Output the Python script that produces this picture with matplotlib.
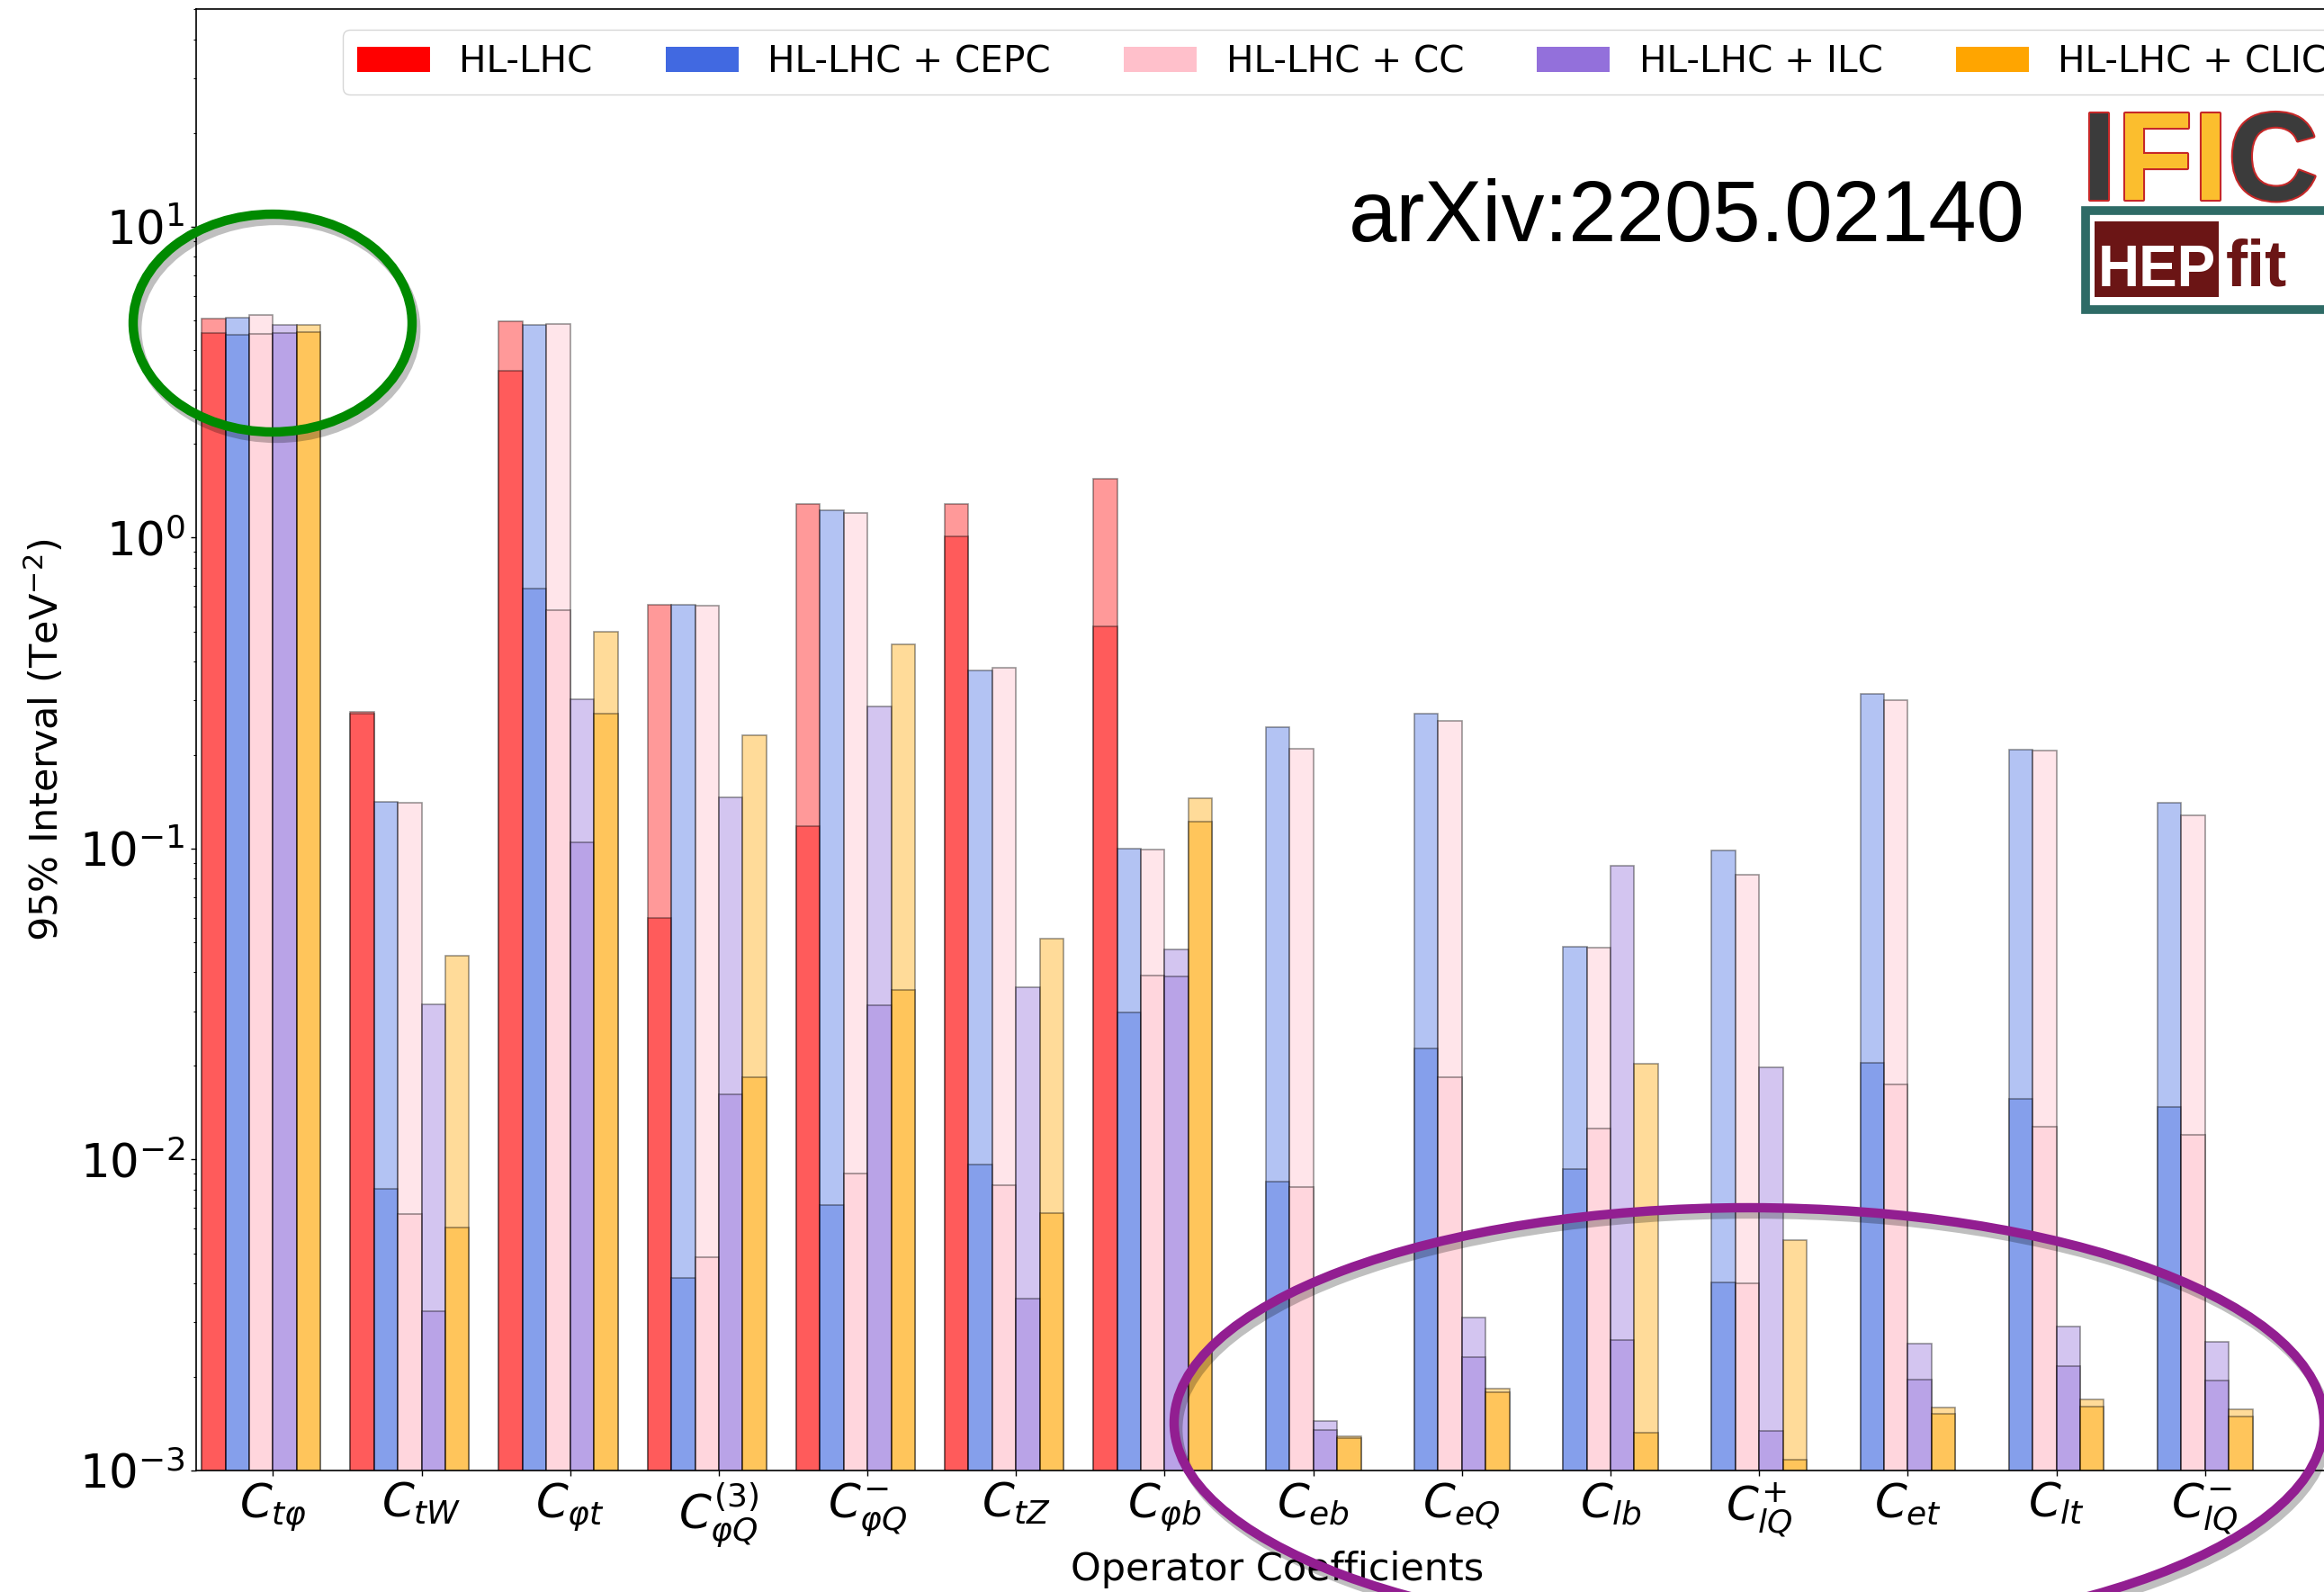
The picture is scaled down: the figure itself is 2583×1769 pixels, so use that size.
import numpy as np
import matplotlib.pyplot as plt
import matplotlib.patheffects as pe
from matplotlib.patches import Patch, Ellipse, Rectangle

nan = np.nan

coeffs = [r'$C_{t\varphi}$', r'$C_{tW}$', r'$C_{\varphi t}$', r'$C_{\varphi Q}^{(3)}$',
          r'$C_{\varphi Q}^{-}$', r'$C_{tZ}$', r'$C_{\varphi b}$', r'$C_{eb}$',
          r'$C_{eQ}$', r'$C_{lb}$', r'$C_{lQ}^{+}$', r'$C_{et}$', r'$C_{lt}$',
          r'$C_{lQ}^{-}$']
labels = ['HL-LHC', 'HL-LHC + CEPC', 'HL-LHC + CC', 'HL-LHC + ILC', 'HL-LHC + CLIC']
colors = ['red', 'royalblue', 'pink', 'mediumpurple', 'orange']

# 95% intervals [TeV^-2]: global fit (light) and individual fit (dark)
hllhc_glob = [5.07, 0.275, 4.96, 0.607, 1.288, 1.288, 1.548, nan, nan, nan, nan, nan, nan, nan]
hllhc_ind = [4.56, 0.272, 3.44, 0.0598, 0.1178, 1.012, 0.518, nan, nan, nan, nan, nan, nan, nan]
cepc_glob = [5.09, 0.141, 4.85, 0.607, 1.222, 0.373, 0.1003, 0.2466, 0.272, 0.0484, 0.0987, 0.314, 0.2075, 0.1406]
cepc_ind = [4.50, 0.00807, 0.686, 0.00415, 0.00716, 0.00964, 0.0298, 0.00849, 0.0228, 0.00931, 0.00403, 0.0205, 0.01563, 0.01476]
cc_glob = [5.21, 0.1405, 4.88, 0.604, 1.202, 0.382, 0.0994, 0.210, 0.258, 0.0481, 0.0824, 0.301, 0.2064, 0.1277]
cc_ind = [4.52, 0.00668, 0.583, 0.00484, 0.0090, 0.00826, 0.0391, 0.00816, 0.01845, 0.01256, 0.00399, 0.0175, 0.01276, 0.01205]
ilc_glob = [4.85, 0.0316, 0.303, 0.146, 0.286, 0.0359, 0.0473, 0.00144, 0.00311, 0.0879, 0.0198, 0.00256, 0.0029, 0.00259]
ilc_ind = [4.56, 0.00326, 0.105, 0.01626, 0.0313, 0.00356, 0.0387, 0.00135, 0.00231, 0.00262, 0.00134, 0.00196, 0.00216, 0.00195]
clic_glob = [4.85, 0.0452, 0.50, 0.232, 0.453, 0.0512, 0.1455, 0.00129, 0.00184, 0.0203, 0.0055, 0.00159, 0.00169, 0.00157]
clic_ind = [4.60, 0.00605, 0.272, 0.01845, 0.0351, 0.00671, 0.1225, 0.00127, 0.00179, 0.00132, 0.00108, 0.00152, 0.00160, 0.00149]

glob = [hllhc_glob, cepc_glob, cc_glob, ilc_glob, clic_glob]
ind = [hllhc_ind, cepc_ind, cc_ind, ilc_ind, clic_ind]

W, H = 2583, 1769
fig = plt.figure(figsize=(W/100, H/100), dpi=100)
ax = fig.add_axes([217.5/W, 135/H, 2405/W, 1623.5/H])

x = np.arange(len(coeffs))
w = 0.16
for k in range(5):
    g = np.array(glob[k])
    s = np.array(ind[k])
    m = ~np.isnan(g)
    pos = x[m] + (k - 2.5)*w
    ax.bar(pos, g[m], w, color=colors[k], alpha=0.4, edgecolor='k', linewidth=1.2)
    ax.bar(pos, s[m], w, color=colors[k], alpha=0.4, edgecolor='k', linewidth=1.2)

ax.set_yscale('log')
ax.set_ylim(1e-3, 50)
ax.set_xlim(-0.52, 14.04)
ax.set_xticks(x)
ax.set_xticklabels(coeffs)
ax.tick_params(which='major', labelsize=37, length=4.3, width=1, pad=4)
ax.tick_params(which='minor', length=2.2, width=0.8)
for sp in ax.spines.values():
    sp.set_linewidth(1.2)

ax.set_ylabel(r'95% Interval (TeV$^{-2}$)', fontsize=31)
ax.set_xlabel('Operator Coefficients', fontsize=31)
ax.yaxis.set_label_coords(-0.0597, 0.5)
ax.xaxis.set_label_coords(0.5, -0.0548)

handles = [Patch(facecolor=c) for c in colors]
fig.legend(handles, labels, loc='upper left', bbox_to_anchor=(380.5/W, 1 - 33/H),
           ncol=5, fontsize=29.2, borderaxespad=0)

sans = ['Liberation Sans', 'DejaVu Sans']
fig.text(1499/W, 1 - 268/H, 'arXiv:2205.02140', fontsize=69, family=sans,
         ha='left', va='baseline')

# IFIC logo, one letter at a time (advance widths of the bold face)
yel = '#FBBE2E'
fs = 100
em = fs*100/72
ifc = [('I', 0.278, '#3b3b3b'), ('F', 0.611, yel), ('I', 0.278, yel), ('C', 0.722, '#3b3b3b')]
px = 2314
for ch, adv, col in ifc:
    fig.text(px/W, 1 - 222/H, ch, fontsize=fs, family=sans, weight='bold',
             color=col, ha='left', va='baseline',
             path_effects=[pe.withStroke(linewidth=3, foreground='#C62828')])
    px += adv*em

# HEPfit logo
fig.add_artist(Rectangle((2318/W, 1 - 344/H), 300/W, 110/H, transform=fig.transFigure,
                         facecolor='white', edgecolor='#2E6B66', linewidth=7))
fig.add_artist(Rectangle((2328/W, 1 - 330/H), 138/W, 84/H, transform=fig.transFigure,
                         facecolor='#6B1515', edgecolor='none'))
fig.text(2397/W, 1 - 318/H, 'HEP', fontsize=46, family=sans, weight='bold',
         color='white', ha='center', va='baseline')
fig.text(2474/W, 1 - 318/H, 'fit', fontsize=52, family=sans, weight='bold',
         color='#6B1515', ha='left', va='baseline')

# highlight rings
shadow = [pe.SimpleLineShadow(offset=(3, -5), shadow_color='k', alpha=0.25), pe.Normal()]
fig.add_artist(Ellipse((303/W, 1 - 359/H), 310/W, 242/H, transform=fig.transFigure,
                       fill=False, edgecolor='#008A00', linewidth=7.5, path_effects=shadow))
fig.add_artist(Ellipse((1944/W, 1 - 1581/H), 1278/W, 478/H, transform=fig.transFigure,
                       fill=False, edgecolor='#921E91', linewidth=7.5, path_effects=shadow))

fig.savefig('out.png', dpi=100)
